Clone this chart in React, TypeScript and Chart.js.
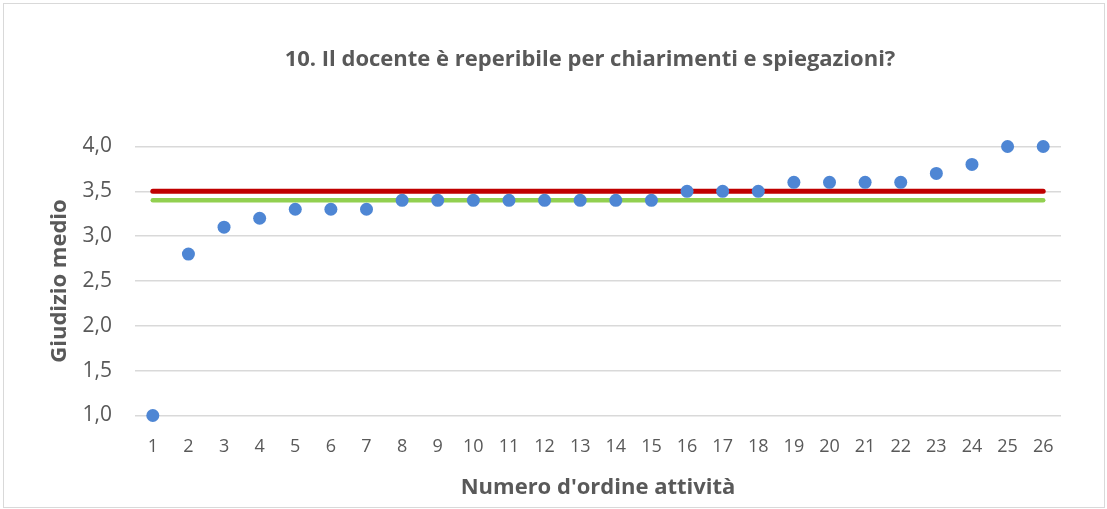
import React, { useEffect, useRef } from "react";
import { Chart, registerables } from "chart.js";

Chart.register(...registerables);

const categories = ["1","2","3","4","5","6","7","8","9","10","11","12","13","14","15","16","17","18","19","20","21","22","23","24","25","26"];
const giudizioMedio = [1.0, 2.8, 3.1, 3.2, 3.3, 3.3, 3.3, 3.4, 3.4, 3.4, 3.4, 3.4, 3.4, 3.4, 3.4, 3.5, 3.5, 3.5, 3.6, 3.6, 3.6, 3.6, 3.7, 3.8, 4.0, 4.0];
const mediaRossa = [3.5, 3.5, 3.5, 3.5, 3.5, 3.5, 3.5, 3.5, 3.5, 3.5, 3.5, 3.5, 3.5, 3.5, 3.5, 3.5, 3.5, 3.5, 3.5, 3.5, 3.5, 3.5, 3.5, 3.5, 3.5, 3.5];
const mediaVerde = [3.4, 3.4, 3.4, 3.4, 3.4, 3.4, 3.4, 3.4, 3.4, 3.4, 3.4, 3.4, 3.4, 3.4, 3.4, 3.4, 3.4, 3.4, 3.4, 3.4, 3.4, 3.4, 3.4, 3.4, 3.4, 3.4];
const yMin = 1.0;
const yMax = 4.0;
const yStep = 0.5;
const chartTitle = "10. Il docente è reperibile per chiarimenti e spiegazioni?";
const xTitle = "Numero d'ordine attività";
const yTitle = "Giudizio medio";

const FONT = "'Open Sans', 'DejaVu Sans', sans-serif";
const TEXT = "#595959";

const titlePlugin = {
  id: "customTitle",
  afterDraw(chart: any) {
    const { ctx, chartArea } = chart;
    ctx.save();
    ctx.font = `bold 22px ${FONT}`;
    ctx.fillStyle = TEXT;
    ctx.textAlign = "center";
    ctx.textBaseline = "middle";
    ctx.fillText(chartTitle, (chartArea.left + chartArea.right) / 2 - 8, 60);
    ctx.restore();
  },
};

export default function App() {
  const ref = useRef<HTMLCanvasElement>(null);
  useEffect(() => {
    document.body.style.margin = "0";
    const chart = new Chart(ref.current!, {
      type: "line",
      data: {
        labels: categories,
        datasets: [
          {
            label: "Giudizio medio",
            data: giudizioMedio,
            showLine: false,
            pointRadius: 6.5,
            pointHoverRadius: 6.5,
            pointBackgroundColor: "#4E86D4",
            pointBorderColor: "#4E86D4",
            pointBorderWidth: 0,
            order: 0,
            clip: false,
          },
          {
            label: "Media rossa",
            data: mediaRossa,
            borderColor: "#C00000",
            borderWidth: 5,
            borderCapStyle: "round",
            pointRadius: 0,
            order: 1,
            clip: false,
          },
          {
            label: "Media verde",
            data: mediaVerde,
            borderColor: "#92D050",
            borderWidth: 4.5,
            borderCapStyle: "round",
            pointRadius: 0,
            order: 2,
            clip: false,
          },
        ],
      },
      options: {
        animation: false,
        responsive: false,
        maintainAspectRatio: false,
        layout: { padding: { top: 146.5, right: 46, bottom: 0, left: 0 } },
        plugins: {
          legend: { display: false },
          tooltip: { enabled: false },
          title: { display: false },
        },
        scales: {
          x: {
            type: "category",
            offset: true,
            grid: { display: false, drawTicks: false },
            border: { display: false },
            ticks: {
              color: TEXT,
              font: { family: FONT, size: 18 },
              padding: 21,
              maxRotation: 0,
              autoSkip: false,
            },
            title: {
              display: true,
              text: xTitle,
              color: TEXT,
              font: { family: FONT, size: 22, weight: "bold" },
              padding: { top: 0, bottom: 8 },
            },
            afterFit(scale: any) {
              scale.height = 93.5;
            },
          },
          y: {
            min: yMin,
            max: yMax,
            grid: { color: "#D9D9D9", lineWidth: 1.5, drawTicks: false },
            border: { display: false },
            ticks: {
              stepSize: yStep,
              color: TEXT,
              font: { family: FONT, size: 21 },
              padding: 23,
              callback: (v: any) => Number(v).toFixed(1).replace(".", ","),
            },
            title: {
              display: true,
              text: yTitle,
              color: TEXT,
              font: { family: FONT, size: 22, weight: "bold" },
              padding: { top: 47, bottom: 0 },
            },
            afterFit(scale: any) {
              scale.width = 135;
            },
          },
        },
      },
      plugins: [titlePlugin],
    });
    return () => chart.destroy();
  }, []);
  return (
    <div style={{ position: "absolute", left: 0, top: 0, width: 1107, height: 509, background: "#fff" }}>
      <canvas ref={ref} width={1107} height={509} style={{ position: "absolute", left: 0, top: 0 }} />
      <div
        style={{
          position: "absolute",
          left: 3,
          top: 3,
          width: 1100,
          height: 503,
          border: "1.5px solid #D9D9D9",
          pointerEvents: "none",
        }}
      />
    </div>
  );
}
